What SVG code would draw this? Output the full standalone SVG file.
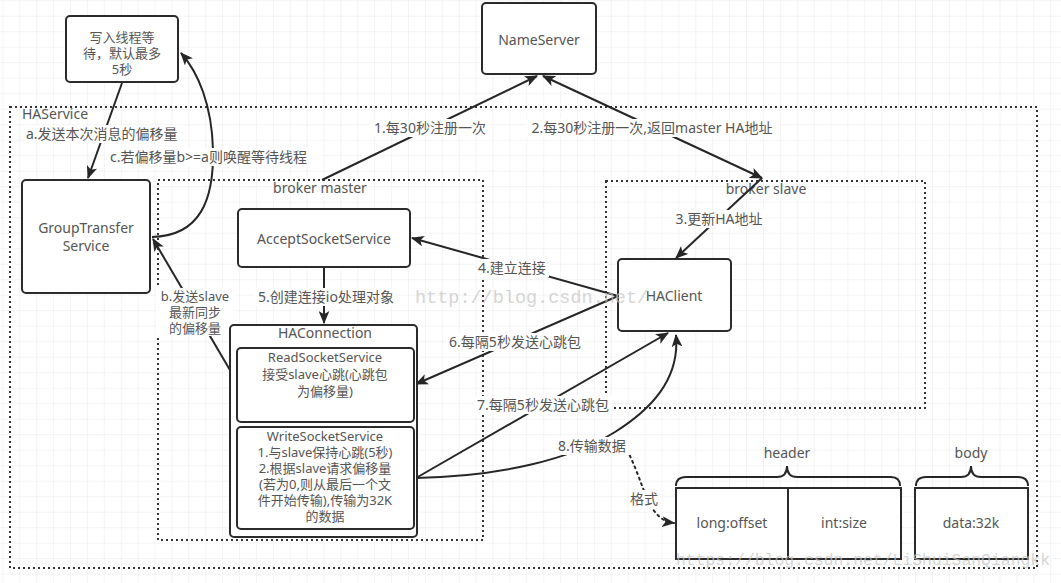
<svg xmlns="http://www.w3.org/2000/svg" width="1061" height="583" viewBox="0 0 1061 583">
<style>
.t{font-family:"Noto Sans","Noto Sans CJK SC",sans-serif;font-size:14px;fill:#555;text-anchor:middle}
.s{font-size:13px}
.tl{text-anchor:start}
.box{fill:#fff;stroke:#2b2b2b;stroke-width:2}
.dot{fill:none;stroke:#333;stroke-width:2;stroke-dasharray:2 3}
.ln{fill:none;stroke:#262626;stroke-width:2}
.lb{fill:#fff}
.wm{font-family:"Liberation Mono",monospace;fill:#c4c4c4;opacity:0.7}
</style>
<defs>
<pattern id="grid" x="2.4" y="0.2" width="16.9" height="15.5" patternUnits="userSpaceOnUse">
<path d="M0,0 L16.9,0 M0,0 L0,15.5" stroke="#e9e9e9" stroke-width="1" fill="none"/>
</pattern>
<marker id="arr" viewBox="0 0 12 10" refX="11" refY="5" markerWidth="13" markerHeight="11" markerUnits="userSpaceOnUse" orient="auto-start-reverse">
<path d="M0,0 L12,5 L0,10 L3,5 z" fill="#262626"/>
</marker>
</defs>
<rect width="1061" height="583" fill="#fff"/>
<rect width="1061" height="583" fill="url(#grid)"/>

<g id="haservice">
<rect class="dot" x="10" y="107" width="1027" height="461"/>
<text class="t tl" x="22" y="119">HAService</text>
</g>
<g id="broker-master">
<rect class="dot" x="158" y="180" width="325" height="360"/>
<text class="t" x="320" y="193">broker master</text>
</g>
<g id="broker-slave">
<rect class="dot" x="606" y="181" width="319" height="227"/>
<text class="t" x="766" y="194">broker slave</text>
</g>

<g id="connectors">
<path class="ln" d="M322,180 L537,76" marker-end="url(#arr)"/>
<path class="ln" d="M762,178 L543,76" marker-start="url(#arr)" marker-end="url(#arr)"/>
<path class="ln" d="M762,178 L676,258" marker-end="url(#arr)"/>
<path class="ln" d="M618,296 L412,238" marker-end="url(#arr)"/>
<path class="ln" d="M324,267 L324,323" marker-end="url(#arr)"/>
<path class="ln" d="M618,296 L416,384" marker-end="url(#arr)"/>
<path class="ln" d="M416,478 L668,333" marker-end="url(#arr)"/>
<path class="ln" d="M416,478 C500,476 570,460 615,432 C650,410 680,380 676,335" marker-end="url(#arr)"/>
<path class="ln" d="M627,450 C640,475 645,500 655,512 C660,518 665,522 674,523" stroke-dasharray="2 4" stroke-linecap="round" marker-end="url(#arr)"/>
<path class="ln" d="M122,83 L88,178" marker-end="url(#arr)"/>
<path class="ln" d="M152,237 C200,236 214,200 213,150 C212,105 198,72 181,53" marker-end="url(#arr)"/>
<path class="ln" d="M237,382 L153,239" marker-end="url(#arr)"/>

<rect class="lb" x="370" y="119" width="120" height="18"/>
<text class="t" x="430" y="133">1.每30秒注册一次</text>
<rect class="lb" x="525" y="119" width="255" height="18"/>
<text class="t" x="652" y="133">2.每30秒注册一次,返回master HA地址</text>
<rect class="lb" x="672" y="210" width="94" height="18"/>
<text class="t" x="719" y="224">3.更新HA地址</text>
<rect class="lb" x="477" y="259" width="72" height="18"/>
<text class="t" x="512" y="273">4.建立连接</text>
<rect class="lb" x="254" y="288" width="144" height="18"/>
<text class="t" x="326" y="302">5.创建连接io处理对象</text>
<rect class="lb" x="446" y="333" width="138" height="18"/>
<text class="t" x="515" y="347">6.每隔5秒发送心跳包</text>
<rect class="lb" x="474" y="396" width="139" height="18"/>
<text class="t" x="543" y="410">7.每隔5秒发送心跳包</text>
<rect class="lb" x="554" y="437" width="76" height="18"/>
<text class="t" x="592" y="451">8.传输数据</text>
<rect class="lb" x="629" y="490" width="31" height="18"/>
<text class="t" x="644" y="504">格式</text>
<rect class="lb" x="25" y="125" width="160" height="18"/>
<text class="t tl" x="26" y="139">a.发送本次消息的偏移量</text>
<rect class="lb" x="108" y="148" width="214" height="18"/>
<text class="t tl" x="110" y="162">c.若偏移量b&gt;=a则唤醒等待线程</text>
<rect class="lb" x="156" y="288" width="79" height="48"/>
<text class="t s" x="195" y="301">b.发送slave</text>
<text class="t s" x="195" y="317">最新同步</text>
<text class="t s" x="195" y="333">的偏移量</text>
</g>

<g id="write-wait">
<rect class="box" x="66" y="16" width="112" height="66" rx="4"/>
<text class="t s" x="122" y="42">写入线程等</text>
<text class="t s" x="122" y="58">待，默认最多</text>
<text class="t s" x="122" y="74">5秒</text>
</g>
<g id="nameserver">
<rect class="box" x="482" y="3" width="114" height="71" rx="4"/>
<text class="t" x="539" y="45">NameServer</text>
</g>
<g id="grouptransfer">
<rect class="box" x="22" y="180" width="128" height="113" rx="4"/>
<text class="t" x="86" y="233">GroupTransfer</text>
<text class="t" x="86" y="251">Service</text>
</g>
<g id="acceptsocket">
<rect class="box" x="238" y="209" width="172" height="58" rx="4"/>
<text class="t" x="324" y="244">AcceptSocketService</text>
</g>
<g id="haclient">
<rect class="box" x="618" y="259" width="113" height="72" rx="4"/>
<text class="t" x="674" y="301">HAClient</text>
</g>
<g id="haconnection">
<rect class="box" x="230" y="325" width="187" height="212" rx="4"/>
<text class="t" x="325" y="338">HAConnection</text>
</g>
<g id="readsocket">
<rect class="box" x="237" y="348" width="177" height="74" rx="4"/>
<text class="t s" x="325" y="362">ReadSocketService</text>
<text class="t s" x="325" y="379">接受slave心跳(心跳包</text>
<text class="t s" x="325" y="396">为偏移量)</text>
</g>
<g id="writesocket">
<rect class="box" x="237" y="427" width="177" height="102" rx="4"/>
<text class="t s" x="325" y="441">WriteSocketService</text>
<text class="t s" x="325" y="457">1.与slave保持心跳(5秒)</text>
<text class="t s" x="325" y="473">2.根据slave请求偏移量</text>
<text class="t s" x="325" y="489">(若为0,则从最后一个文</text>
<text class="t s" x="325" y="505">件开始传输),传输为32K</text>
<text class="t s" x="325" y="521">的数据</text>
</g>
<g id="header">
<path class="ln" d="M676,486 Q676,477 686,477 L777,477 Q787,477 787,466 Q787,477 797,477 L891,477 Q900,477 900,486"/>
<text class="t" x="787" y="458">header</text>
<rect class="box" x="676" y="488" width="112" height="71"/>
<text class="t" x="732" y="528">long:offset</text>
<rect class="box" x="788" y="488" width="113" height="71"/>
<text class="t" x="844" y="528">int:size</text>
</g>
<g id="body">
<path class="ln" d="M916,486 Q916,477 926,477 L961,477 Q971,477 971,466 Q971,477 981,477 L1018,477 Q1028,477 1028,486"/>
<text class="t" x="971" y="458">body</text>
<rect class="box" x="915" y="488" width="113" height="71"/>
<text class="t" x="971" y="528">data:32k</text>
</g>
<g id="watermarks">
<text class="wm" x="415" y="303" font-size="18.5">http://blog.csdn.net/</text>
<text class="wm" x="676" y="565" font-size="16" textLength="374" lengthAdjust="spacingAndGlyphs">https://blog.csdn.net/LiShuiSanQiangkk</text>
</g>
</svg>
